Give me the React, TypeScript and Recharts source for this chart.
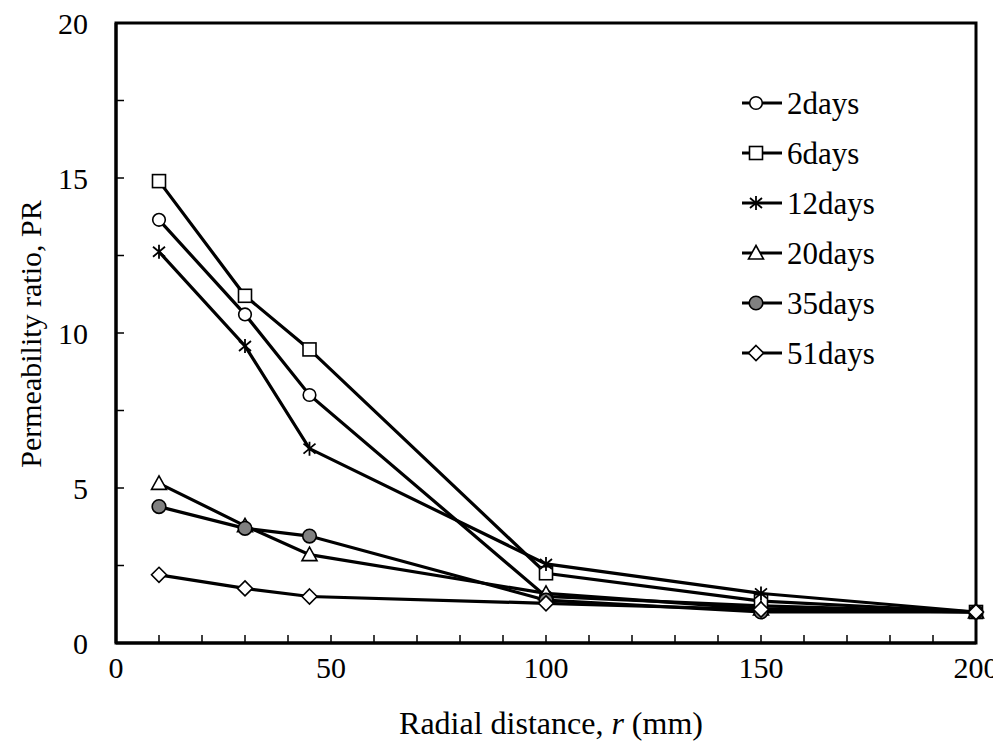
import React from 'react';
import { LineChart, Line, XAxis, YAxis, ReferenceArea, Label } from 'recharts';

const radialDistance = [10, 30, 45, 100, 150, 200];
const days2 = [13.65, 10.6, 8.0, 1.5, 1.2, 1.0];
const days6 = [14.9, 11.2, 9.47, 2.25, 1.35, 1.0];
const days12 = [12.62, 9.58, 6.27, 2.55, 1.6, 1.0];
const days20 = [5.15, 3.78, 2.85, 1.6, 1.1, 1.0];
const days35 = [4.4, 3.7, 3.45, 1.38, 1.0, 1.0];
const days51 = [2.2, 1.76, 1.5, 1.28, 1.08, 1.0];

const xTicks = [0, 10, 20, 30, 40, 50, 60, 70, 80, 90, 100, 110, 120, 130, 140, 150, 160, 170, 180, 190, 200];
const yTicks = [0, 2.5, 5, 7.5, 10, 12.5, 15, 17.5, 20];

const seriesNames = ['2days', '6days', '12days', '20days', '35days', '51days'];
const seriesValues = [days2, days6, days12, days20, days35, days51];
const markerKinds = ['circle', 'square', 'star', 'triangle', 'filled', 'diamond'];

const data = radialDistance.map((r, i) => {
  const row: any = { r };
  seriesNames.forEach((n, j) => {
    row[n] = seriesValues[j][i];
  });
  return row;
});

const FONT = "'Liberation Serif', 'Times New Roman', 'DejaVu Serif', serif";
const tickStyle: React.CSSProperties = { fontFamily: FONT, fontSize: 30, fill: '#000' };
const legendStyle: React.CSSProperties = { fontFamily: FONT, fontSize: 31, fill: '#000' };
const yTitleStyle: React.CSSProperties = { fontFamily: FONT, fontSize: 30, fill: '#000' };
const xTitleStyle: React.CSSProperties = { fontFamily: FONT, fontSize: 32, fill: '#000' };

const globalCss = `
html, body { overflow: hidden; }
svg { overflow: visible; }
`;

function Marker({ kind, cx, cy }: { kind: string; cx: number; cy: number }) {
  const sw = 1.6;
  switch (kind) {
    case 'circle':
      return <circle cx={cx} cy={cy} r={6.3} fill="#fff" stroke="#000" strokeWidth={sw} />;
    case 'square':
      return <rect x={cx - 6.5} y={cy - 6.5} width={13} height={13} fill="#fff" stroke="#000" strokeWidth={sw} />;
    case 'star':
      return (
        <path
          d={`M${cx},${cy - 7}L${cx},${cy + 7}M${cx - 6},${cy - 5}L${cx + 6},${cy + 5}M${cx - 6},${cy + 5}L${cx + 6},${cy - 5}`}
          stroke="#000"
          strokeWidth={1.8}
          fill="none"
        />
      );
    case 'triangle':
      return (
        <path
          d={`M${cx},${cy - 7.5}L${cx + 7.5},${cy + 6}L${cx - 7.5},${cy + 6}Z`}
          fill="#fff"
          stroke="#000"
          strokeWidth={sw}
        />
      );
    case 'filled':
      return <circle cx={cx} cy={cy} r={6.8} fill="#808080" stroke="#000" strokeWidth={sw} />;
    case 'diamond':
      return (
        <path
          d={`M${cx},${cy - 7.5}L${cx + 7.5},${cy}L${cx},${cy + 7.5}L${cx - 7.5},${cy}Z`}
          fill="#fff"
          stroke="#000"
          strokeWidth={sw}
        />
      );
    default:
      return null;
  }
}

function makeDot(kind: string) {
  return (props: any) => {
    const { cx, cy, index } = props;
    if (cx == null || cy == null) return <g key={`d-${kind}-${index}`} />;
    return (
      <g key={`d-${kind}-${index}`}>
        <Marker kind={kind} cx={cx} cy={cy} />
      </g>
    );
  };
}

function XTick(props: any) {
  const { x, y, payload } = props;
  const v = payload.value;
  if (v % 50 !== 0) return <g />;
  return (
    <text x={x} y={y} dy="0.71em" textAnchor="middle" style={tickStyle}>
      {v}
    </text>
  );
}

function YTick(props: any) {
  const { x, y, payload } = props;
  const v = payload.value;
  if (v % 5 !== 0) return <g />;
  return (
    <text x={x} y={y} dy="0.35em" textAnchor="end" style={tickStyle}>
      {v}
    </text>
  );
}

function LegendBox() {
  const rowH = 50;
  return (
    <svg width={200} height={6 * rowH} style={{ display: 'block', overflow: 'visible' }}>
      {seriesNames.map((n, i) => {
        const y = 25 + i * rowH;
        return (
          <g key={n}>
            <line x1={9} x2={49} y1={y} y2={y} stroke="#000" strokeWidth={3} />
            <Marker kind={markerKinds[i]} cx={23} cy={y} />
            <text x={54} y={y} dy="0.34em" style={legendStyle}>
              {n}
            </text>
          </g>
        );
      })}
    </svg>
  );
}

export default function App() {
  return (
    <div style={{ position: 'relative', width: 985, height: 735 }}>
      <style>{globalCss}</style>
      <LineChart
        width={985}
        height={735}
        data={data}
        margin={{ top: 15, right: 17, bottom: 30, left: 8 }}
      >
        <ReferenceArea x1={0} x2={200} y1={0} y2={20} fill="none" stroke="#000" strokeWidth={3} ifOverflow="visible" />
        <XAxis
          dataKey="r"
          type="number"
          domain={[0, 200]}
          ticks={xTicks}
          interval={0}
          tickSize={-8}
          tickMargin={22}
          height={70}
          axisLine={{ stroke: '#000', strokeWidth: 3 }}
          tickLine={{ stroke: '#000', strokeWidth: 1.5 }}
          tick={<XTick />}
        >
          <Label
            content={(props: any) => {
              const vb = props.viewBox;
              return (
                <text x={vb.x + vb.width / 2 + 5} y={726} textAnchor="middle" style={xTitleStyle}>
                  Radial distance, <tspan style={{ fontStyle: 'italic' }}>r</tspan> (mm)
                </text>
              );
            }}
          />
        </XAxis>
        <YAxis
          type="number"
          domain={[0, 20]}
          ticks={yTicks}
          interval={0}
          tickSize={-8}
          tickMargin={36}
          width={100}
          axisLine={{ stroke: '#000', strokeWidth: 3 }}
          tickLine={{ stroke: '#000', strokeWidth: 1.5 }}
          tick={<YTick />}
        >
          <Label
            content={(props: any) => {
              const vb = props.viewBox;
              const cx = 22;
              const cy = vb.y + vb.height / 2 + 1;
              return (
                <text
                  x={cx}
                  y={cy}
                  transform={`rotate(-90, ${cx}, ${cy})`}
                  textAnchor="middle"
                  dy="0.35em"
                  style={yTitleStyle}
                >
                  Permeability ratio, PR
                </text>
              );
            }}
          />
        </YAxis>
        {seriesNames.map((n, i) => (
          <Line
            key={n}
            dataKey={n}
            type="linear"
            stroke="#000"
            strokeWidth={3.2}
            dot={makeDot(markerKinds[i])}
            activeDot={false}
            legendType="none"
            isAnimationActive={false}
          />
        ))}
      </LineChart>
      <div style={{ position: 'absolute', left: 725, top: 70 }}>
        <LegendBox />
      </div>
    </div>
  );
}
